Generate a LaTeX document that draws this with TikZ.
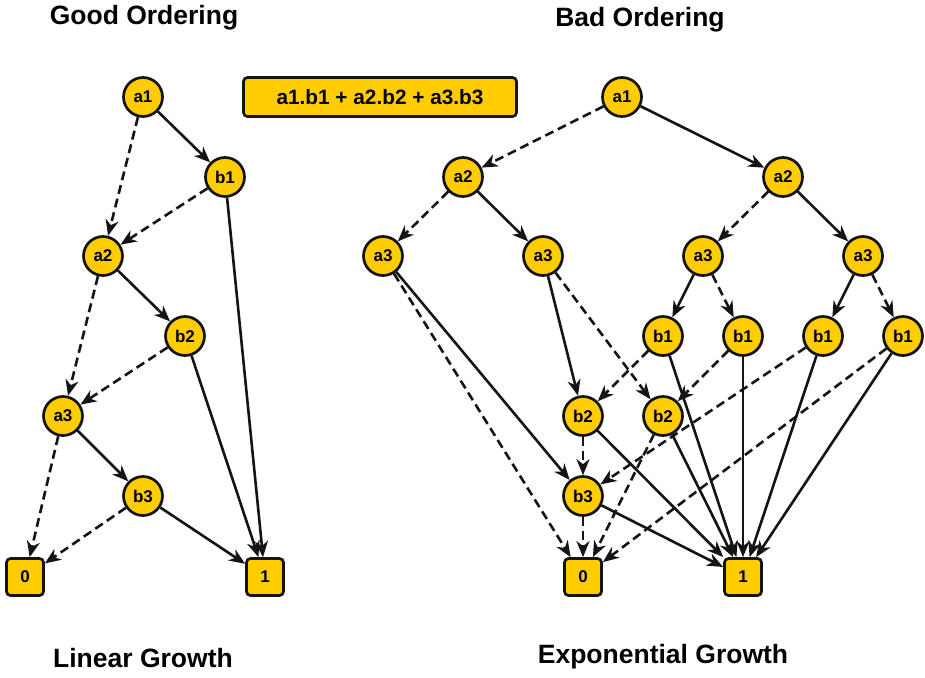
\documentclass[tikz,border=0pt]{standalone}
\usepackage{fontspec}
\setmainfont{Liberation Sans}
\usetikzlibrary{arrows.meta}
\definecolor{bddfill}{HTML}{FFCC00}
\definecolor{bddline}{HTML}{141414}
\begin{document}
\begin{tikzpicture}[x=1pt,y=-1pt,
  vnode/.style={circle, draw=bddline, fill=bddfill, line width=2.7pt,
    minimum size=39pt, inner sep=0pt, font=\fontsize{17}{17}\selectfont\bfseries},
  term/.style={rectangle, rounded corners=4pt, draw=bddline, fill=bddfill,
    line width=2.7pt, minimum size=37pt, inner sep=0pt,
    font=\fontsize{17}{17}\selectfont\bfseries},
  hi/.style={line width=2.6pt, draw=bddline, -{Stealth[length=16pt,width=13pt,inset=5pt]}},
  lo/.style={hi, dash pattern=on 9pt off 5pt},
  title/.style={font=\fontsize{26.5}{26.5}\selectfont\bfseries}
]
\fill[white] (0,0) rectangle (925,677);
\useasboundingbox (0,0) rectangle (925,677);

% titles
\node[title] (tgood) at (144,18) {Good Ordering};
\node[title] (tbad) at (640,20) {Bad Ordering};
\node[title] (tlin) at (143,658) {Linear Growth};
\node[title] (texp) at (663,657) {Exponential Growth};

% formula
\node[rectangle, rounded corners=4pt, draw=bddline, fill=bddfill, line width=2.7pt,
  minimum width=273pt, minimum height=39pt, inner sep=0pt,
  font=\fontsize{20.8}{20.8}\selectfont\bfseries] (formula) at (380,97)
  {a1.b1 + a2.b2 + a3.b3};

% ---- good ordering ----
\node[vnode] (ga1) at (143,97) {a1};
\node[vnode] (gb1) at (225,177) {b1};
\node[vnode] (ga2) at (103,256) {a2};
\node[vnode] (gb2) at (185,336) {b2};
\node[vnode] (ga3) at (63,416) {a3};
\node[vnode] (gb3) at (143,496) {b3};
\node[term] (g0) at (25,577) {0};
\node[term] (g1) at (265,577) {1};

\draw[hi] (ga1) -- (gb1);
\draw[lo] (ga1) -- (ga2);
\draw[lo] (gb1) -- (ga2);
\draw[hi] (gb1) -- (g1);
\draw[hi] (ga2) -- (gb2);
\draw[lo] (ga2) -- (ga3);
\draw[lo] (gb2) -- (ga3);
\draw[hi] (gb2) -- (g1);
\draw[hi] (ga3) -- (gb3);
\draw[lo] (ga3) -- (g0);
\draw[lo] (gb3) -- (g0);
\draw[hi] (gb3) -- (g1);

% ---- bad ordering ----
\node[vnode] (ba1) at (622,97) {a1};
\node[vnode] (ba2l) at (463,177) {a2};
\node[vnode] (ba2r) at (783,177) {a2};
\node[vnode] (ba3a) at (383,256) {a3};
\node[vnode] (ba3b) at (543,256) {a3};
\node[vnode] (ba3c) at (703,256) {a3};
\node[vnode] (ba3d) at (863,256) {a3};
\node[vnode] (bb1a) at (663,336) {b1};
\node[vnode] (bb1b) at (743,336) {b1};
\node[vnode] (bb1c) at (823,336) {b1};
\node[vnode] (bb1d) at (903,336) {b1};
\node[vnode] (bb2a) at (583,416) {b2};
\node[vnode] (bb2b) at (663,416) {b2};
\node[vnode] (bb3) at (583,496) {b3};
\node[term] (b0) at (583,577) {0};
\node[term] (b1) at (743,577) {1};

\draw[lo] (ba1) -- (ba2l);
\draw[hi] (ba1) -- (ba2r);
\draw[lo] (ba2l) -- (ba3a);
\draw[hi] (ba2l) -- (ba3b);
\draw[lo] (ba2r) -- (ba3c);
\draw[hi] (ba2r) -- (ba3d);
\draw[lo] (ba3a) -- (b0);
\draw[hi] (ba3a) -- (bb3);
\draw[hi] (ba3b) -- (bb2a);
\draw[lo] (ba3b) -- (bb2b);
\draw[hi] (ba3c) -- (bb1a);
\draw[lo] (ba3c) -- (bb1b);
\draw[hi] (ba3d) -- (bb1c);
\draw[lo] (ba3d) -- (bb1d);
\draw[lo] (bb1a) -- (bb2a);
\draw[hi] (bb1a) -- (b1);
\draw[lo] (bb1b) -- (bb2b);
\draw[hi] (bb1b) -- (b1);
\draw[lo] (bb1c) -- (bb3);
\draw[hi] (bb1c) -- (b1);
\draw[lo] (bb1d) -- (b0);
\draw[hi] (bb1d) -- (b1);
\draw[lo] (bb2a) -- (bb3);
\draw[hi] (bb2a) -- (b1);
\draw[lo] (bb2b) -- (b0);
\draw[hi] (bb2b) -- (b1);
\draw[lo] (bb3) -- (b0);
\draw[hi] (bb3) -- (b1);
\end{tikzpicture}
\end{document}
